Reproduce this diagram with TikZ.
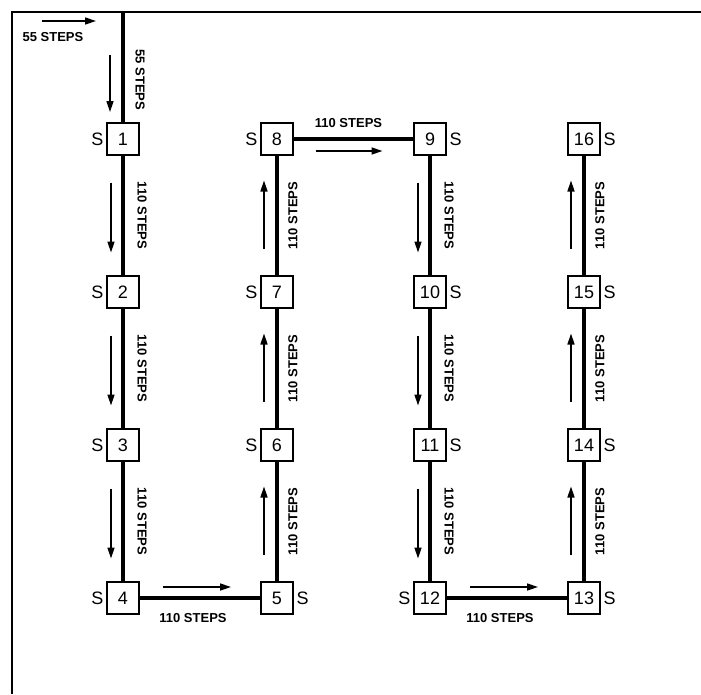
\documentclass[tikz,border=0pt]{standalone}
\usepackage{fontspec}
\setmainfont{Liberation Sans}
\usetikzlibrary{arrows.meta}

\tikzset{
  cell/.style={draw, line width=2pt, minimum width=32pt, minimum height=32pt,
    inner sep=0pt, font=\fontsize{18}{18}\selectfont},
  every label/.style={font=\fontsize{18}{18}\selectfont, inner sep=2.5pt},
  track/.style={line width=3.2pt},
  flow/.style={line width=1.6pt, -{Triangle[length=11pt, width=7pt]}},
  steps/.style={font=\fontsize{13}{13}\bfseries\selectfont, inner sep=0pt},
  stepsdn/.style={steps, xshift=19pt, rotate=-90},
  stepsup/.style={steps, xshift=16pt, rotate=90},
}

\begin{document}
\begin{tikzpicture}[x=1pt,y=-1pt]
\useasboundingbox (0,0) rectangle (701,694);
\draw[line width=2.8pt] (12,694) -- (12,12) -- (701,12);

% the sixteen stations
\node[cell, label=left:S]  (n1)  at (123,139) {1};
\node[cell, label=left:S]  (n2)  at (123,292) {2};
\node[cell, label=left:S]  (n3)  at (123,445) {3};
\node[cell, label=left:S]  (n4)  at (123,598) {4};
\node[cell, label=right:S] (n5)  at (277,598) {5};
\node[cell, label=left:S]  (n6)  at (277,445) {6};
\node[cell, label=left:S]  (n7)  at (277,292) {7};
\node[cell, label=left:S]  (n8)  at (277,139) {8};
\node[cell, label=right:S] (n9)  at (430,139) {9};
\node[cell, label=right:S] (n10) at (430,292) {10};
\node[cell, label=right:S] (n11) at (430,445) {11};
\node[cell, label=left:S]  (n12) at (430,598) {12};
\node[cell, label=right:S] (n13) at (584,598) {13};
\node[cell, label=right:S] (n14) at (584,445) {14};
\node[cell, label=right:S] (n15) at (584,292) {15};
\node[cell, label=right:S] (n16) at (584,139) {16};

% entry
\node[steps] (start) at (53,37) {55 STEPS};
\draw[flow] (42,21) -- (96,21);
\coordinate (top) at (123,12);
\draw[track] (top) -- coordinate[midway] (m0)
  node[midway, steps, xshift=17pt, yshift=-13pt, rotate=-90] {55 STEPS} (n1);
\draw[flow] ([xshift=-13pt,yshift=12pt]m0) -- ([xshift=-13pt,yshift=-45pt]m0);

% column one, down
\draw[track] (n1) -- coordinate[midway] (m1) node[midway, stepsdn] {110 STEPS} (n2);
\draw[flow] ([xshift=-12pt,yshift=33pt]m1) -- ([xshift=-12pt,yshift=-37pt]m1);
\draw[track] (n2) -- coordinate[midway] (m2) node[midway, stepsdn] {110 STEPS} (n3);
\draw[flow] ([xshift=-12pt,yshift=33pt]m2) -- ([xshift=-12pt,yshift=-37pt]m2);
\draw[track] (n3) -- coordinate[midway] (m3) node[midway, stepsdn] {110 STEPS} (n4);
\draw[flow] ([xshift=-12pt,yshift=33pt]m3) -- ([xshift=-12pt,yshift=-37pt]m3);

% across the bottom
\draw[track] (n4) -- coordinate[midway] (m4)
  node[midway, steps, yshift=-20pt, xshift=-7pt] {110 STEPS} (n5);
\draw[flow] ([xshift=-37pt,yshift=11pt]m4) -- ([xshift=31pt,yshift=11pt]m4);

% column two, up
\draw[track] (n5) -- coordinate[midway] (m5) node[midway, stepsup] {110 STEPS} (n6);
\draw[flow] ([xshift=-13pt,yshift=-33pt]m5) -- ([xshift=-13pt,yshift=35pt]m5);
\draw[track] (n6) -- coordinate[midway] (m6) node[midway, stepsup] {110 STEPS} (n7);
\draw[flow] ([xshift=-13pt,yshift=-33pt]m6) -- ([xshift=-13pt,yshift=35pt]m6);
\draw[track] (n7) -- coordinate[midway] (m7) node[midway, stepsup] {110 STEPS} (n8);
\draw[flow] ([xshift=-13pt,yshift=-33pt]m7) -- ([xshift=-13pt,yshift=35pt]m7);

% across the top
\draw[track] (n8) -- coordinate[midway] (m8)
  node[midway, steps, yshift=16pt, xshift=-5pt] {110 STEPS} (n9);
\draw[flow] ([xshift=-38pt,yshift=-12pt]m8) -- ([xshift=29pt,yshift=-12pt]m8);

% column three, down
\draw[track] (n9) -- coordinate[midway] (m9) node[midway, stepsdn] {110 STEPS} (n10);
\draw[flow] ([xshift=-12pt,yshift=33pt]m9) -- ([xshift=-12pt,yshift=-37pt]m9);
\draw[track] (n10) -- coordinate[midway] (m10) node[midway, stepsdn] {110 STEPS} (n11);
\draw[flow] ([xshift=-12pt,yshift=33pt]m10) -- ([xshift=-12pt,yshift=-37pt]m10);
\draw[track] (n11) -- coordinate[midway] (m11) node[midway, stepsdn] {110 STEPS} (n12);
\draw[flow] ([xshift=-12pt,yshift=33pt]m11) -- ([xshift=-12pt,yshift=-37pt]m11);

% across the bottom
\draw[track] (n12) -- coordinate[midway] (m12)
  node[midway, steps, yshift=-20pt, xshift=-7pt] {110 STEPS} (n13);
\draw[flow] ([xshift=-37pt,yshift=11pt]m12) -- ([xshift=31pt,yshift=11pt]m12);

% column four, up
\draw[track] (n13) -- coordinate[midway] (m13) node[midway, stepsup] {110 STEPS} (n14);
\draw[flow] ([xshift=-13pt,yshift=-33pt]m13) -- ([xshift=-13pt,yshift=35pt]m13);
\draw[track] (n14) -- coordinate[midway] (m14) node[midway, stepsup] {110 STEPS} (n15);
\draw[flow] ([xshift=-13pt,yshift=-33pt]m14) -- ([xshift=-13pt,yshift=35pt]m14);
\draw[track] (n15) -- coordinate[midway] (m15) node[midway, stepsup] {110 STEPS} (n16);
\draw[flow] ([xshift=-13pt,yshift=-33pt]m15) -- ([xshift=-13pt,yshift=35pt]m15);
\end{tikzpicture}
\end{document}
